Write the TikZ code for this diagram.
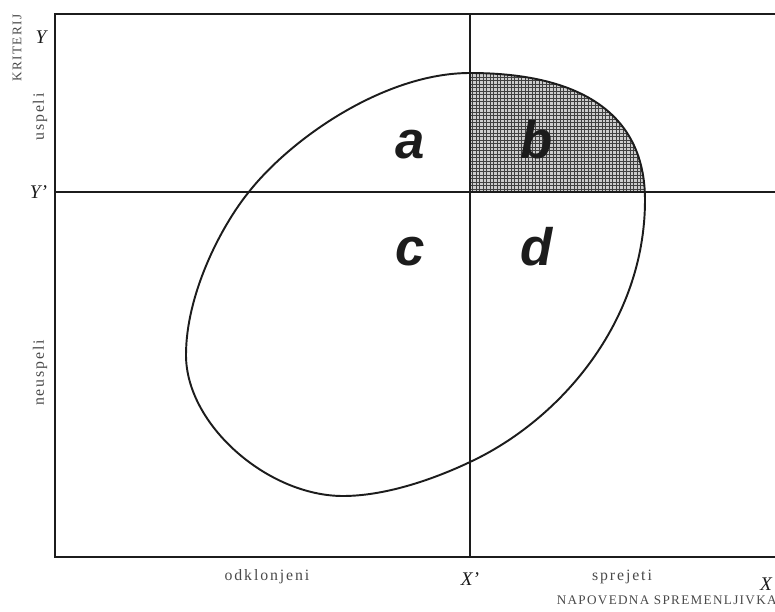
\documentclass[tikz,border=0pt]{standalone}
\usepackage{fontspec}
\setmainfont{Liberation Serif}
\newfontfamily\quadfont{Liberation Sans}
\usetikzlibrary{positioning}
\definecolor{PrintInk}{HTML}{1C1C1C}

\newcommand{\eggcurve}{(470,73) .. controls (575,73) and (645,110) .. (645,200)
    .. controls (645,322) and (560,420) .. (470,462)
    .. controls (430,481) and (383,496) .. (343,496)
    .. controls (268,496) and (186,425) .. (186,355)
    .. controls (186,295) and (220,228) .. (248,193)
    .. controls (291,138) and (385,73) .. cycle}

\begin{document}
\begin{tikzpicture}[x=0.02cm, y=-0.02cm, node distance=0.1cm,
        frameline/.style={line width=1.3pt, PrintInk},
        divline/.style={line width=0.8pt, PrintInk},
        quadlbl/.style={font=\quadfont\fontsize{30}{30}\selectfont\bfseries\itshape, text=PrintInk, anchor=base, inner sep=0pt},
        axislbl/.style={font=\fontsize{11}{11}\selectfont\itshape, text=PrintInk, inner sep=0pt},
        sidelbl/.style={font=\fontsize{9}{9}\selectfont\addfontfeatures{LetterSpace=12}, text=PrintInk!80, inner sep=0pt},
        titlelbl/.style={font=\fontsize{7.5}{7.5}\selectfont\addfontfeatures{LetterSpace=10}, text=PrintInk!80, inner sep=0pt}]

        \useasboundingbox (0,0) rectangle (775,612);

        \coordinate (ylow) at (55,557);
        \coordinate (ytop) at (55,14);
        \coordinate (ymid) at (55,192);
        \coordinate (xmid) at (470,557);
        \coordinate (cross) at (470,192);

        % hatched part b
        \begin{scope}
            \clip (470,14) rectangle (775,192);
            \clip \eggcurve;
            \fill[white!80!black] (460,50) rectangle (680,200);
            \draw[black!75, line width=0.35pt, step=0.07cm] (460,50) grid (680,200);
        \end{scope}

        \draw[frameline] (775,14) -- (ytop) -- (ylow) -- (775,557);
        \draw[divline] (ymid) -- (775,192);
        \draw[divline] (470,14) -- (xmid);
        \draw[line width=1.1pt, PrintInk] \eggcurve;

        \node[quadlbl] (qa) at (410,158) {a};
        \node[quadlbl] (qb) at (537,158) {b};
        \node[quadlbl] (qc) at (410,265) {c};
        \node[quadlbl] (qd) at (537,265) {d};

        \node[axislbl] (ly) at (41,37) {Y};
        \node[axislbl, left=0.15cm of ymid] (lyp) {Y'};
        \node[axislbl, below=0.3cm of xmid] (lxp) {X'};
        \node[axislbl] (lx) at (766,584) {X};

        \node[titlelbl, rotate=90] (krit) at (17,48) {KRITERIJ};
        \node[sidelbl, rotate=90] (usp) at (40,117) {uspeli};
        \node[sidelbl, rotate=90] (neusp) at (40,373) {neuspeli};
        \node[sidelbl] (odkl) at (267,577) {odklonjeni};
        \node[sidelbl] (sprej) at (622,577) {sprejeti};
        \node[titlelbl, anchor=east] (napov) at (777,600) {NAPOVEDNA SPREMENLJIVKA};
    \end{tikzpicture}
\end{document}
